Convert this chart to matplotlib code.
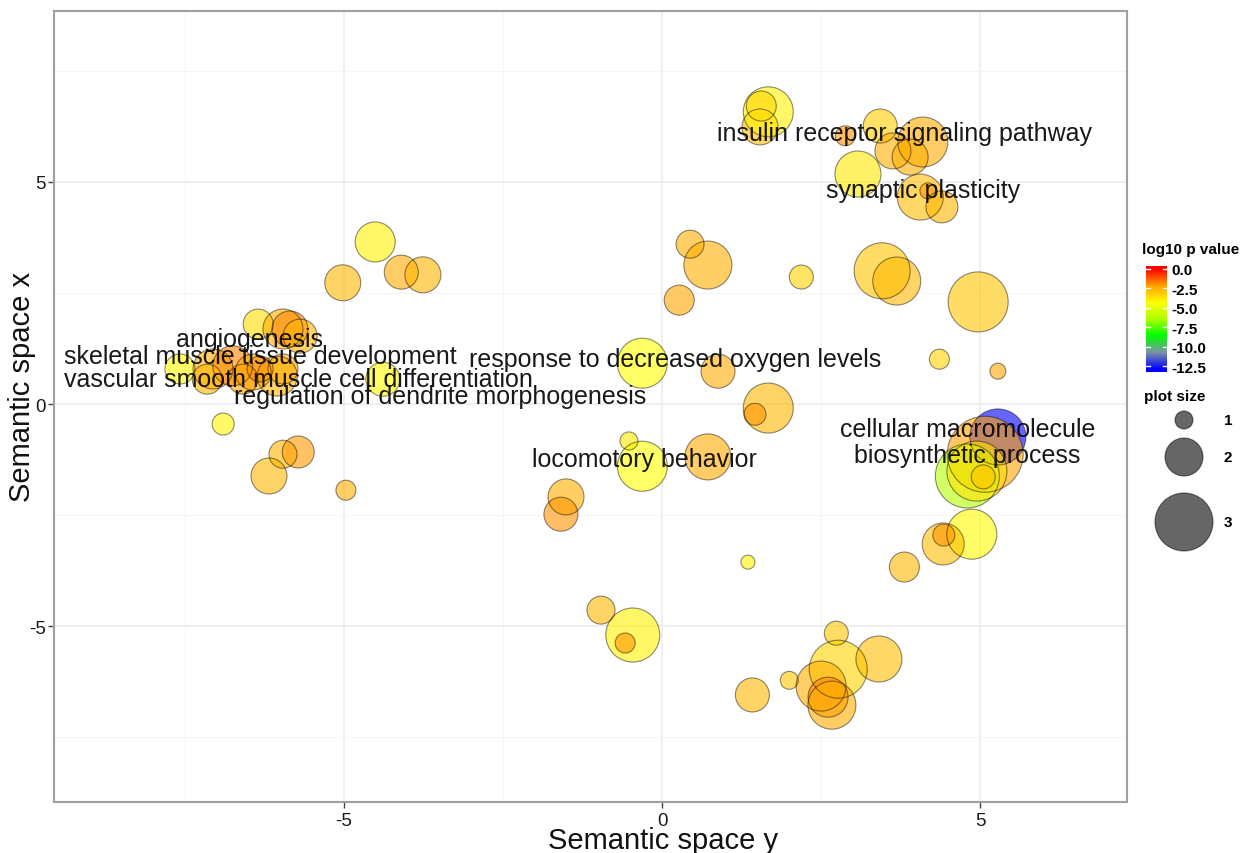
import numpy as np
import matplotlib
matplotlib.use("Agg")
import matplotlib.pyplot as plt
from matplotlib.colors import LinearSegmentedColormap, Normalize

plt.rcParams["font.family"] = ["Liberation Sans", "DejaVu Sans"]
plt.rcParams["axes.unicode_minus"] = False

DPI = 100

# GO terms in semantic space: horizontal = semantic space y, vertical = semantic space x
space_y = [1.56, 1.54, 1.67, 2.88, 3.43, 3.63, 4.10, 3.90, 3.08, 4.06, 4.40, 4.18,
           0.44, 0.72, 0.27, 2.19, 3.46, 3.69, 4.97, 4.36, 5.28,
           -0.31, 0.88, 1.67, 1.46, -0.31, -0.52, 0.72, -1.51, -1.59, 1.35,
           -4.51, -4.10, -3.76, -5.02, -4.39,
           -6.35, -5.96, -5.85, -5.69, -7.58, -7.06, -6.75, -6.43, -6.05, -7.15,
           -6.59, -6.32, -5.96, -6.90,
           -6.18, -5.96, -5.72, -4.97,
           5.28, 5.08, 4.80, 4.95, 5.05, 4.87, 4.42, 4.43, 3.81,
           -0.96, -0.46, -0.58, 1.42, 2.00, 2.74, 2.77, 3.41, 2.50, 2.61, 2.67]
space_x = [6.71, 6.24, 6.58, 6.04, 6.26, 5.70, 5.90, 5.56, 5.18, 4.66, 4.44, 4.80,
           3.60, 3.13, 2.34, 2.86, 3.00, 2.77, 2.30, 1.01, 0.74,
           0.92, 0.74, -0.09, -0.23, -1.40, -0.83, -1.19, -2.09, -2.48, -3.56,
           3.65, 2.97, 2.91, 2.73, 0.56,
           1.80, 1.69, 1.69, 1.53, 0.79, 0.79, 0.86, 0.72, 0.63, 0.56,
           0.56, 0.79, 0.79, -0.45,
           -1.62, -1.13, -1.08, -1.94,
           -0.74, -1.13, -1.62, -1.51, -1.64, -2.93, -3.15, -2.95, -3.67,
           -4.64, -5.20, -5.38, -6.55, -6.22, -5.16, -5.97, -5.74, -6.35, -6.60, -6.78]
plot_size = [1.6, 1.9, 2.6, 1.1, 1.8, 1.9, 2.6, 1.9, 2.4, 2.4, 1.7, 0.9,
             1.5, 2.5, 1.6, 1.3, 2.9, 2.5, 3.1, 1.1, 0.9,
             2.6, 1.8, 2.6, 1.2, 2.6, 1.0, 2.4, 1.9, 1.8, 0.8,
             2.1, 1.8, 1.9, 1.9, 1.8,
             1.6, 2.1, 1.9, 1.8, 1.6, 2.1, 2.1, 1.9, 2.1, 1.6,
             1.6, 1.4, 1.6, 1.2,
             1.9, 1.5, 1.7, 1.1,
             2.9, 3.9, 3.3, 3.1, 1.3, 2.6, 2.2, 1.2, 1.6,
             1.5, 2.8, 1.1, 1.8, 1.0, 1.3, 3.0, 2.4, 2.6, 2.1, 2.5]
log10_p = [-2.5, -2.8, -4.0, -2.0, -3.2, -2.5, -2.4, -2.5, -3.8, -2.8, -2.6, -2.0,
           -2.5, -2.5, -2.3, -3.3, -3.0, -2.7, -3.0, -3.3, -2.3,
           -4.3, -2.4, -2.7, -2.0, -4.3, -3.8, -2.4, -2.5, -2.0, -4.0,
           -4.0, -2.4, -2.6, -2.7, -4.2,
           -3.5, -2.5, -1.8, -2.6, -4.2, -2.5, -1.8, -2.4, -2.6, -2.6,
           -2.2, -1.9, -2.4, -4.1,
           -2.7, -2.6, -2.1, -2.5,
           -12.9, -2.2, -6.2, -3.6, -3.0, -4.2, -2.8, -2.0, -2.7,
           -2.7, -4.0, -2.0, -2.7, -3.0, -3.0, -3.3, -2.8, -2.5, -1.8, -2.5]

# representative terms and where their names are written
label_text = ["insulin receptor signaling pathway", "synaptic plasticity",
              "angiogenesis", "skeletal muscle tissue development",
              "vascular smooth muscle cell differentiation",
              "regulation of dendrite morphogenesis",
              "response to decreased oxygen levels", "locomotory behavior",
              "cellular macromolecule\nbiosynthetic process"]
label_y = [3.81, 4.10, -6.49, -6.31, -5.71, -3.49, 0.20, -0.27, 4.80]
label_x = [6.10, 4.82, 1.46, 1.08, 0.56, 0.18, 1.01, -1.24, -0.86]

cbar_ticks = [0.0, -2.5, -5.0, -7.5, -10.0, -12.5]
size_ticks = [1, 2, 3]

P_MIN = min(log10_p)

# blue-green-yellow-red ramp with perceptual midpoints
cmap = LinearSegmentedColormap.from_list("pval", [
    (0.0, (0, 0, 1)),
    (1 / 6, (125 / 255, 147 / 255, 166 / 255)),
    (1 / 3, (0, 1, 0)),
    (1 / 2, (174 / 255, 1, 0)),
    (2 / 3, (1, 1, 0)),
    (5 / 6, (1, 161 / 255, 0)),
    (1.0, (1, 0, 0)),
])
norm = Normalize(vmin=P_MIN, vmax=0)


def marker_area(size):
    d_px = 20 * np.asarray(size, dtype=float) - 2
    return (d_px * 72 / DPI) ** 2


fig = plt.figure(figsize=(12.51, 8.54), dpi=DPI)
W, H = 1251, 854
ax = fig.add_axes([54 / W, 1 - 803 / H, (1127 - 54) / W, (803 - 12) / H])

ax.scatter(space_y, space_x, s=marker_area(plot_size), c=log10_p, cmap=cmap,
           norm=norm, alpha=0.6, edgecolors="none", zorder=3)
ax.scatter(space_y, space_x, s=marker_area(plot_size), facecolors="none",
           edgecolors=(0, 0, 0, 0.45), linewidths=0.8, zorder=4)

for t, x, y in zip(label_text, label_y, label_x):
    ax.text(x, y, t, ha="center", va="center", fontsize=18, linespacing=1.1,
            color=(0, 0, 0, 0.9), zorder=5)

ax.set_xlim(-9.56, 7.31)
ax.set_ylim(-8.96, 8.85)
ax.set_xticks([-5, 0, 5])
ax.set_yticks([-5, 0, 5])
ax.set_xticks([-7.5, -2.5, 2.5], minor=True)
ax.set_yticks([-7.5, -2.5, 2.5, 7.5], minor=True)
ax.grid(which="major", color="#EBEBEB", lw=1.1)
ax.grid(which="minor", color="#F5F5F5", lw=0.7)
ax.set_axisbelow(True)
ax.tick_params(which="major", length=4, width=1, color="#444444",
               labelsize=13.5, labelcolor="#1A1A1A")
ax.tick_params(axis="x", pad=3)
ax.tick_params(axis="y", pad=2)
ax.tick_params(which="minor", length=0)
for sp in ax.spines.values():
    sp.set_color("#A0A0A0")
    sp.set_linewidth(1.5)

# axis titles
fig.text(663 / W, 1 - 849 / H, "Semantic space y", fontsize=21, ha="center",
         va="baseline", color="#111111")
fig.text(30 / W, 1 - 387 / H, "Semantic space x", fontsize=21, rotation=90,
         rotation_mode="anchor", ha="center", va="baseline", color="#111111")

# colour bar for log10 p value
cax = fig.add_axes([1146 / W, 1 - 373 / H, 21 / W, 106 / H])
grad = np.linspace(P_MIN - 0.34, 0.34, 256)[:, None]
cax.imshow(grad, aspect="auto", cmap=cmap, norm=norm, origin="lower",
           extent=[0, 1, P_MIN - 0.34, 0.34])
for v in cbar_ticks:
    cax.plot([0, 0.2], [v, v], color="white", lw=1)
    cax.plot([0.8, 1], [v, v], color="white", lw=1)
cax.set_xlim(0, 1)
cax.set_ylim(P_MIN - 0.34, 0.34)
cax.set_xticks([])
cax.yaxis.tick_right()
cax.set_yticks(cbar_ticks)
cax.set_yticklabels([f"{v:.1f}" for v in cbar_ticks], fontweight="bold", fontsize=11)
cax.tick_params(axis="y", length=0, pad=3)
for sp in cax.spines.values():
    sp.set_visible(False)
fig.text(1142 / W, 1 - 250 / H, "log10 p value", fontweight="bold", fontsize=11,
         ha="left", va="center")

# size legend
fig.text(1144 / W, 1 - 397 / H, "plot size", fontweight="bold", fontsize=11,
         ha="left", va="center")
lax = fig.add_axes([1140 / W, 1 - 560 / H, 100 / W, 150 / H])
lax.set_xlim(1140, 1240)
lax.set_ylim(560, 410)
lax.axis("off")
size_py = [421, 458, 523]
lax.scatter([1184] * 3, size_py, s=marker_area(size_ticks), facecolors=(0, 0, 0, 0.6),
            edgecolors=(0, 0, 0, 0.5), linewidths=0.8, clip_on=False)
for v, py in zip(size_ticks, size_py):
    lax.text(1228, py, str(v), fontweight="bold", fontsize=11, ha="center", va="center")

fig.savefig("out.png", dpi=DPI)
